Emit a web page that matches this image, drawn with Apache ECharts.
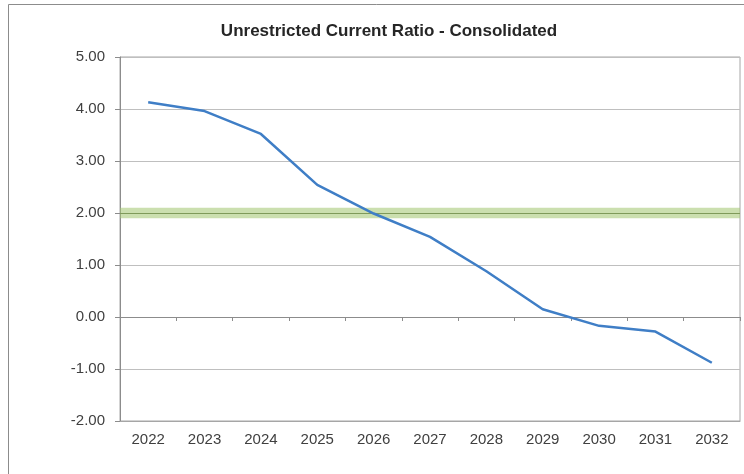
<!DOCTYPE html>
<html><head><meta charset="utf-8">
<script src="https://cdn.jsdelivr.net/npm/echarts@6/dist/echarts.min.js"></script>
<style>html,body{margin:0;padding:0;background:#fff}#c{width:744px;height:474px}</style>
</head><body><div id="c"></div>
<script>
const categories = ['2022','2023','2024','2025','2026','2027','2028','2029','2030','2031','2032'];
const ratioValues = [4.13, 3.96, 3.52, 2.54, 1.99, 1.54, 0.88, 0.15, -0.17, -0.28, -0.88];
const targetValue = 2.0;
const targetBand = [1.9, 2.1];
const yTicks = {min: -2, max: 5, interval: 1};

const chart = echarts.init(document.getElementById('c'), null, {renderer: 'canvas'});
const font = '"Liberation Sans", Arial, sans-serif';
chart.setOption({
  animation: false,
  backgroundColor: '#fff',
  title: {
    text: 'Unrestricted Current Ratio - Consolidated',
    left: 384, top: 18, textAlign: 'center',
    textStyle: {fontFamily: font, fontSize: 17, fontWeight: 'bold', color: '#262626'}
  },
  graphic: [{
    type: 'rect', shape: {x: 8.5, y: 4.5, width: 800, height: 600},
    style: {fill: 'none', stroke: '#8c8c8c', lineWidth: 1}, silent: true
  }],
  grid: {left: 120, top: 57, right: 4, bottom: 53, show: true, borderColor: '#a6a6a6', borderWidth: 1},
  xAxis: [{
    type: 'category', data: categories, position: 'bottom',
    axisLine: {onZero: false, show: true, lineStyle: {color: '#a6a6a6'}},
    axisTick: {show: false},
    axisLabel: {fontFamily: font, fontSize: 15, color: '#404040', margin: 11}
  }, {
    type: 'category', data: categories, position: 'top',
    axisLine: {onZero: true, show: true, lineStyle: {color: '#8c8c8c', width: 1}},
    axisTick: {show: true, inside: true, length: 4, lineStyle: {color: '#8c8c8c'}},
    axisLabel: {show: false}
  }],
  yAxis: {
    type: 'value', min: yTicks.min, max: yTicks.max, interval: yTicks.interval,
    axisLine: {show: true, lineStyle: {color: '#8c8c8c'}},
    axisTick: {show: true, length: 5, lineStyle: {color: '#8c8c8c'}},
    axisLabel: {fontFamily: font, fontSize: 15, color: '#404040', margin: 15, formatter: v => v.toFixed(2)},
    splitLine: {lineStyle: {color: '#bfbfbf'}}
  },
  series: [{
    type: 'line', data: ratioValues, xAxisIndex: 0,
    symbol: 'none', lineStyle: {color: '#3f7ec6', width: 2.5},
    z: 5,
    markArea: {
      silent: true,
      itemStyle: {color: 'rgba(160,196,110,0.55)'},
      data: [[{yAxis: targetBand[0]}, {yAxis: targetBand[1]}]]
    },
    markLine: {
      silent: true, symbol: 'none', label: {show: false},
      lineStyle: {color: '#7f9a5a', width: 1, type: 'solid'},
      data: [{yAxis: targetValue}]
    }
  }]
});
</script></body></html>
